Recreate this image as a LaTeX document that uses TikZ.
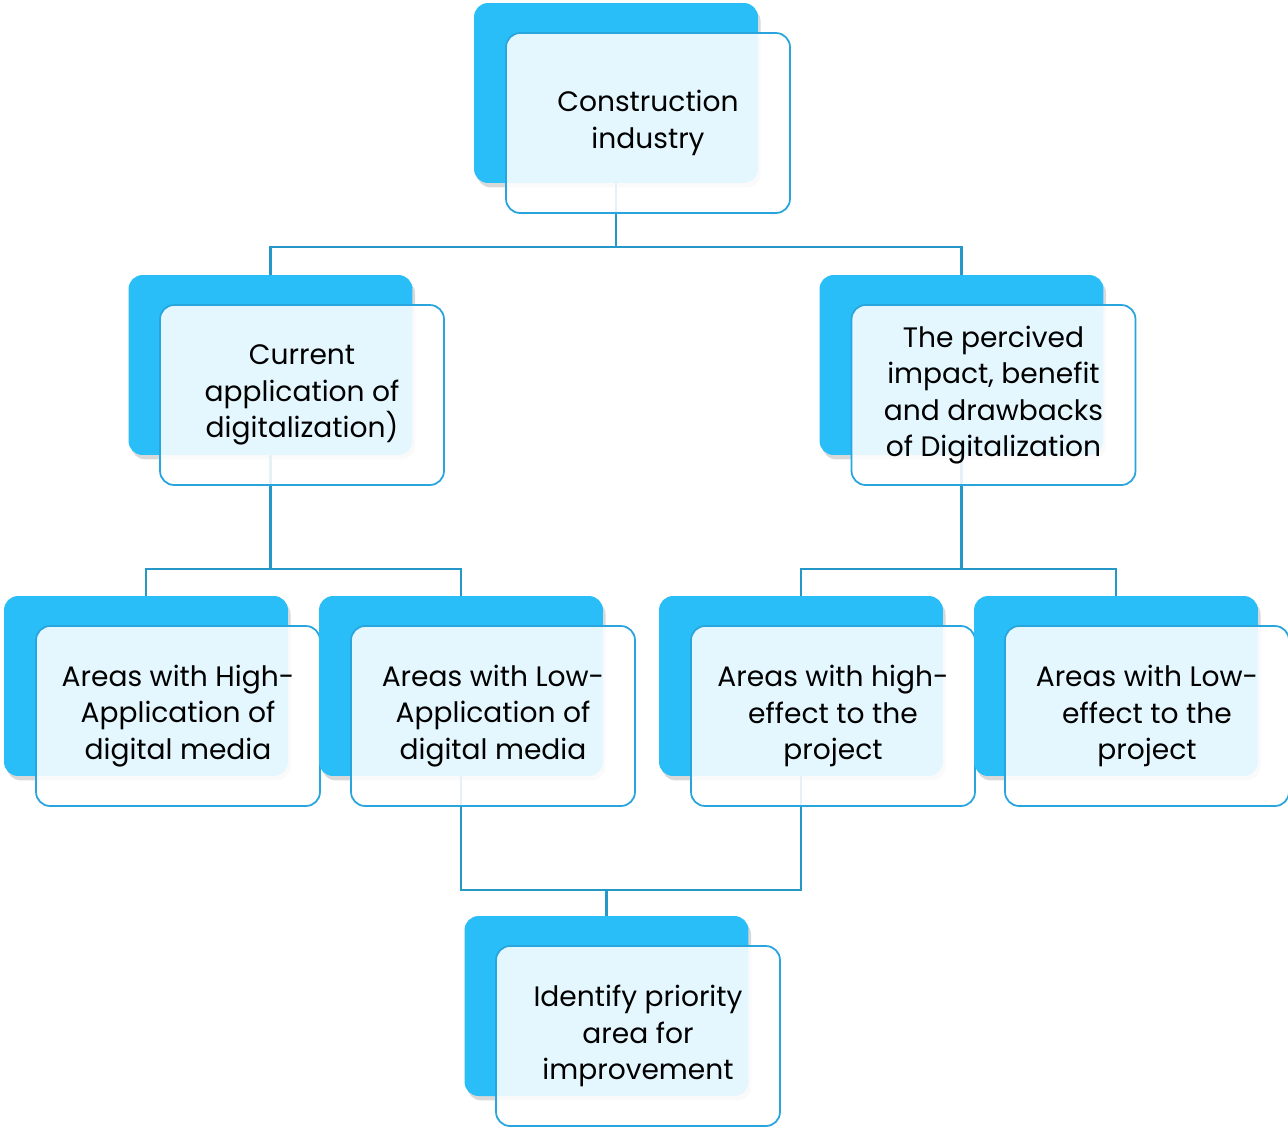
\documentclass[tikz,border=0pt]{standalone}
\usepackage{fontspec}
\setmainfont{Poppins}
\usetikzlibrary{shadows,backgrounds}

\definecolor{backblue}{RGB}{41,190,248}
\definecolor{edgeblue}{RGB}{40,165,220}
\definecolor{linkblue}{RGB}{38,152,200}

\begin{document}
\begin{tikzpicture}[
  x=0.02cm, y=-0.02cm,
  font=\fontsize{16}{20.8}\selectfont,
  back/.style={fill=backblue, rounded corners=8pt, minimum width=5.68cm, minimum height=3.6cm, inner sep=0pt,
    drop shadow={shadow xshift=1.5pt, shadow yshift=-2.5pt, opacity=0.3}},
  front/.style={draw=edgeblue, line width=1pt, fill=white, fill opacity=0.88, text opacity=1,
    rounded corners=8pt, minimum width=5.68cm, minimum height=3.6cm, inner sep=0pt, align=center},
  link/.style={draw=linkblue, line width=1.2pt}
]
\useasboundingbox (0,0) rectangle (1288,1127);

% boxes: blue plate behind, pale card in front
\node[back] (topb) at (616,93) {};
\node[front] (top) at (648,123) {Construction\\industry};
\node[back] (curb) at (270.5,365) {};
\node[front] (cur) at (302,395) {Current\\application of\\digitalization)};
\node[back] (impb) at (961.5,365) {};
\node[front] (imp) at (993.5,395) {The percived\\impact, benefit\\and drawbacks\\of Digitalization};
\node[back] (highb) at (146,686) {};
\node[front] (high) at (178,716) {Areas with High-\\Application of\\digital media};
\node[back] (lowb) at (461,686) {};
\node[front] (low) at (493,716) {Areas with Low-\\Application of\\digital media};
\node[back] (effb) at (801,686) {};
\node[front] (eff) at (833,716) {Areas with high-\\effect to the\\project};
\node[back] (leffb) at (1116,686) {};
\node[front] (leff) at (1147,716) {Areas with Low-\\effect to the\\project};
\node[back] (prib) at (606.5,1006) {};
\node[front] (pri) at (638,1036) {Identify priority\\area for\\improvement};

% elbow points
\coordinate (j1) at (616,247);
\coordinate (j2) at (270.5,569);
\coordinate (j3) at (961.5,569);
\coordinate (j4) at (606.5,890);

% connectors
\begin{scope}[on background layer]
\draw[link] (topb.south) -- (j1);
\draw[link] (j1) -| (curb.north);
\draw[link] (j1) -| (impb.north);
\draw[link] (curb.south) -- (j2);
\draw[link] (j2) -| (highb.north);
\draw[link] (j2) -| (lowb.north);
\draw[link] (impb.south) -- (j3);
\draw[link] (j3) -| (effb.north);
\draw[link] (j3) -| (leffb.north);
\draw[link] (lowb.south) |- (j4);
\draw[link] (effb.south) |- (j4);
\draw[link] (j4) -- (prib.north);
\end{scope}

\end{tikzpicture}
\end{document}
